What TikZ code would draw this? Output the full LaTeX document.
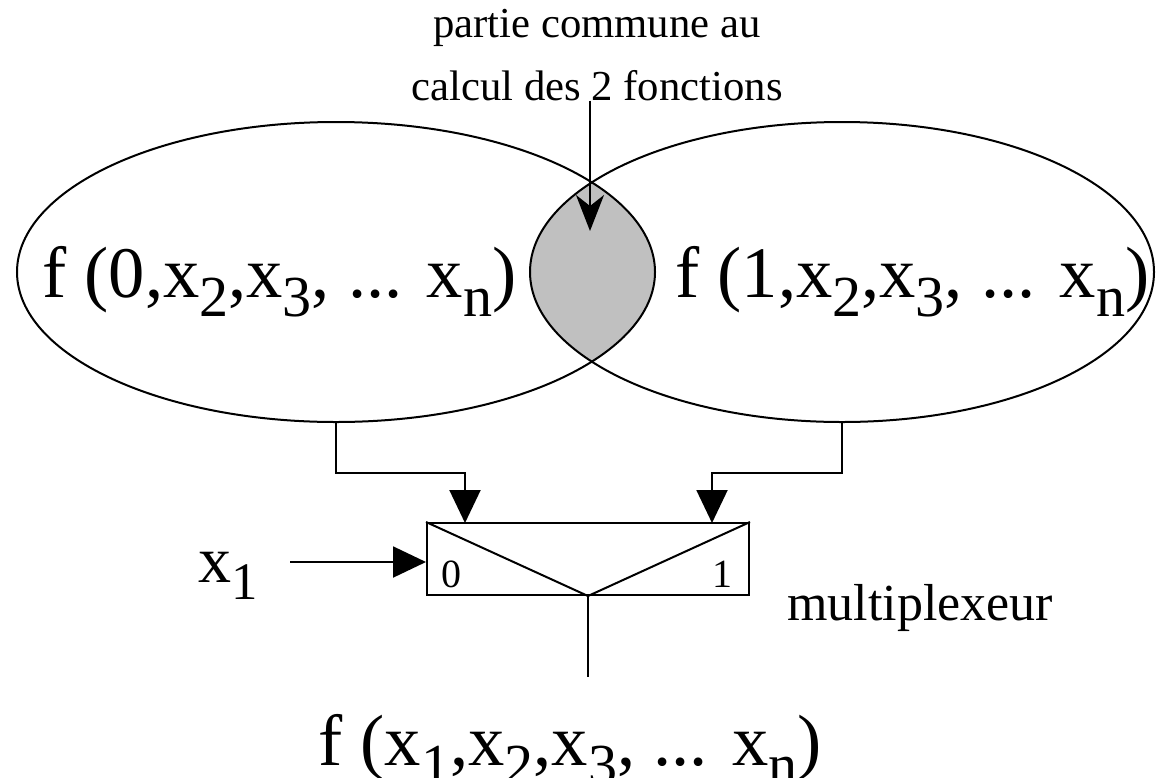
\documentclass[tikz,border=0pt]{standalone}
\usepackage{fontspec}
\setmainfont{Liberation Serif}
\usepackage{graphicx}
\usetikzlibrary{shapes.geometric, arrows.meta, positioning, calc}

\definecolor{lensgray}{RGB}{192,192,192}
\newcommand\sbx[1]{\raisebox{-0.27em}{\scalebox{0.8}{#1}}}

\begin{document}
\begin{tikzpicture}[
  x=1pt, y=-1pt,
  fnset/.style={ellipse, draw, line width=2pt, minimum width=638pt, minimum height=300pt, inner sep=0pt},
  muxbox/.style={rectangle, draw, line width=2pt, minimum width=322pt, minimum height=72pt, inner sep=0pt},
  biglbl/.style={inner sep=0pt, font=\fontsize{72.6}{80}\selectfont},
  midlbl/.style={inner sep=0pt, font=\fontsize{52}{60}\selectfont},
  smalllbl/.style={inner sep=0pt, font=\fontsize{40}{48}\selectfont},
  wire/.style={line width=2pt},
  feed/.style={line width=2pt, -{Triangle[length=33pt, width=31pt]}},
  pointer/.style={line width=2pt, -{Stealth[length=36pt, width=28pt, inset=11pt]}}
]
  \useasboundingbox (0,0) rectangle (1156,777);

  % common part of the two sets
  \coordinate (c0) at (336,272);
  \coordinate (c1) at (842,272);
  \begin{scope}
    \clip (c0) ellipse [x radius=319pt, y radius=150pt];
    \fill[lensgray] (c1) ellipse [x radius=312pt, y radius=150pt];
  \end{scope}

  \node[fnset] (ell0) at (c0) {};
  \node[fnset, minimum width=624pt] (ell1) at (c1) {};

  \node[biglbl, anchor=base west] (f0) at (42,297) {f (0,x\sbx{2},x\sbx{3}, ... x\sbx{n})};
  \node[biglbl, anchor=base west] (f1) at (675,297) {f (1,x\sbx{2},x\sbx{3}, ... x\sbx{n})};

  \node[inner sep=0pt, align=center, font=\fontsize{42.7}{63}\selectfont, anchor=base] (note) at (597,100)
    {partie commune au\\calcul des 2 fonctions};
  \coordinate (lens) at (590,231);
  \draw[pointer] (note.south -| lens) -- (lens);

  % multiplexer
  \node[muxbox] (mux) at (588,559) {};
  \draw[wire] (mux.north west) -- (mux.south) -- (mux.north east);
  \node[smalllbl, anchor=base west] (sel0) at (441,587) {0};
  \node[smalllbl, anchor=base east] (sel1) at (733,587) {1};
  \node[midlbl, anchor=base west] (muxname) at (787,620) {multiplexeur};

  \coordinate (in0) at (465,523);
  \coordinate (in1) at (712,523);
  \draw[feed] (ell0.south) -- ++(0,50) -| (in0);
  \draw[feed] (ell1.south) -- ++(0,50) -| (in1);

  \node[biglbl, font=\fontsize{66}{72}\selectfont, anchor=base west] (xone) at (198,582) {x\sbx{1}};
  \coordinate (xtail) at (290,562);
  \draw[feed] (xtail) -- (xtail -| mux.west);

  \coordinate (out) at (588,677);
  \draw[wire] (mux.south) -- (out);
  \node[biglbl, anchor=base] (fout) at (570,765) {f (x\sbx{1},x\sbx{2},x\sbx{3}, ... x\sbx{n})};
\end{tikzpicture}
\end{document}
